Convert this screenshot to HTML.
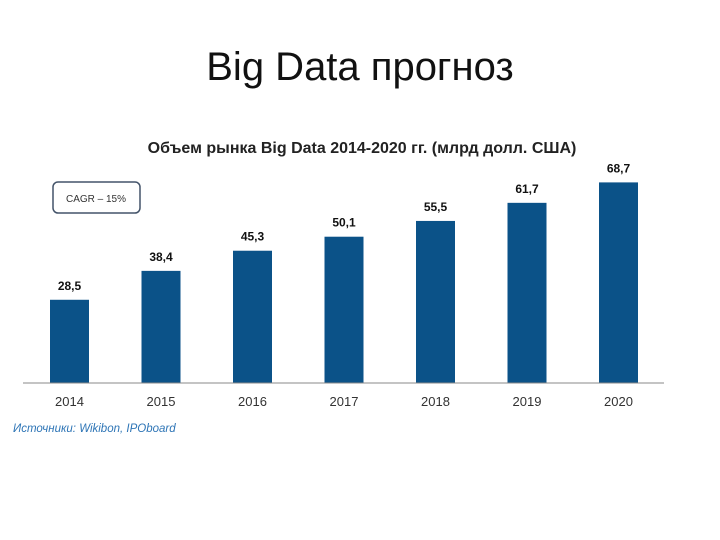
<!DOCTYPE html>
<html><head><meta charset="utf-8"><style>
body{margin:0;background:#fff;width:720px;height:540px;overflow:hidden;font-family:"Liberation Sans",sans-serif}
</style></head><body>
<div style="position:absolute;left:0;width:720px;top:43px;text-align:center;font-size:40px;line-height:48px;color:#111">Big Data прогноз</div>
<svg width="720" height="540" style="position:absolute;left:0;top:0">
<text x="362" y="153" text-anchor="middle" font-size="16" font-weight="bold" fill="#222" font-family="Liberation Sans, sans-serif">Объем рынка Big Data 2014-2020 гг. (млрд долл. США)</text>
<rect x="53" y="182" width="87" height="31" rx="5" fill="#fff" stroke="#44546a" stroke-width="1.5"/>
<text x="96" y="202" text-anchor="middle" font-size="10" fill="#333" font-family="Liberation Sans, sans-serif">CAGR – 15%</text>
<g id="bars"></g>
<line x1="23" y1="383" x2="664" y2="383" stroke="#888" stroke-width="1"/>
<text x="13" y="432" font-size="11.5" font-style="italic" fill="#2e75b6" font-family="Liberation Sans, sans-serif">Источники: Wikibon, IPOboard</text>
</svg>
<script>
const categories=["2014","2015","2016","2017","2018","2019","2020"];
const values=[28.5,38.4,45.3,50.1,55.5,61.7,68.7];
const valueLabels=["28,5","38,4","45,3","50,1","55,5","61,7","68,7"];
const NS="http://www.w3.org/2000/svg";
const g=document.getElementById("bars");
const base=383, scale=2.92, x0=69.5, step=91.5, bw=39;
function xs(i){return x0+i*step;}
function ys(v){return base-v*scale;}
categories.forEach((c,i)=>{
  const r=document.createElementNS(NS,"rect");
  
  
  r.setAttribute("x",xs(i)-bw/2);r.setAttribute("y",ys(values[i]));
  r.setAttribute("width",bw);r.setAttribute("height",base-ys(values[i]));
  r.setAttribute("fill","#0b5288");g.appendChild(r);
  const t=document.createElementNS(NS,"text");
  
  
  t.setAttribute("x",xs(i));t.setAttribute("y",ys(values[i])-10);
  t.setAttribute("text-anchor","middle");t.setAttribute("font-size","12");t.setAttribute("font-weight","bold");
  t.setAttribute("fill","#111");t.setAttribute("font-family","Liberation Sans, sans-serif");
  t.textContent=valueLabels[i];g.appendChild(t);
  const l=document.createElementNS(NS,"text");
  
  
  l.setAttribute("x",xs(i));l.setAttribute("y",406);
  l.setAttribute("text-anchor","middle");l.setAttribute("font-size","13");l.setAttribute("fill","#333");
  l.setAttribute("font-family","Liberation Sans, sans-serif");
  l.textContent=c;g.appendChild(l);
});
</script>
</body></html>
